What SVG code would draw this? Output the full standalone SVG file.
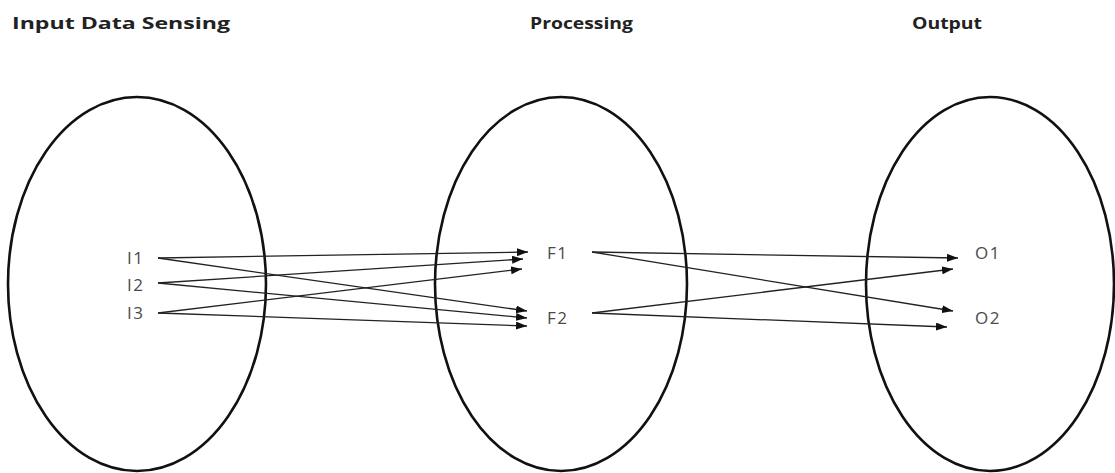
<svg xmlns="http://www.w3.org/2000/svg" width="1115" height="473" viewBox="0 0 1115 473">
<style>
.ell{fill:none;stroke:#111;stroke-width:2.6}
.title{font-family:"Open Sans","Noto Sans",sans-serif;font-weight:bold;font-size:16px;fill:#222}
.lbl{font-family:"Open Sans","Noto Sans",sans-serif;font-size:17px;fill:#4a4a4a;letter-spacing:1.5px}
.conn line{stroke:#222;stroke-width:1.3;marker-end:url(#arr)}
</style>
<defs>
<marker id="arr" markerUnits="userSpaceOnUse" markerWidth="12" markerHeight="8" refX="11" refY="4" orient="auto">
<path d="M0,0 L11,4 L0,8 z" fill="#111"/>
</marker>
</defs>
<rect width="1115" height="473" fill="#fff"/>
<g id="titles">
<text class="title" x="12" y="29" textLength="218" lengthAdjust="spacingAndGlyphs">Input Data Sensing</text>
<text class="title" x="530" y="29" textLength="103" lengthAdjust="spacingAndGlyphs">Processing</text>
<text class="title" x="912" y="29" textLength="70" lengthAdjust="spacingAndGlyphs">Output</text>
</g>
<g id="input">
<ellipse class="ell" cx="137" cy="284" rx="129" ry="187"/>
<text class="lbl" x="127" y="264">I1</text>
<text class="lbl" x="127" y="291">I2</text>
<text class="lbl" x="127" y="319">I3</text>
</g>
<g id="processing">
<ellipse class="ell" cx="561" cy="284" rx="126" ry="187"/>
<text class="lbl" x="547" y="259">F1</text>
<text class="lbl" x="547" y="324">F2</text>
</g>
<g id="output">
<ellipse class="ell" cx="990" cy="284" rx="124" ry="187"/>
<text class="lbl" x="975" y="259">O1</text>
<text class="lbl" x="975" y="324">O2</text>
</g>
<g class="conn" id="connectors">
<line x1="158" y1="258" x2="528" y2="252"/>
<line x1="158" y1="258" x2="527" y2="311"/>
<line x1="158" y1="283" x2="523" y2="259"/>
<line x1="158" y1="283" x2="527" y2="318"/>
<line x1="158" y1="313" x2="522" y2="269"/>
<line x1="158" y1="313" x2="527" y2="326"/>
<line x1="592" y1="252" x2="958" y2="258"/>
<line x1="592" y1="252" x2="953" y2="311"/>
<line x1="592" y1="313" x2="953" y2="269"/>
<line x1="592" y1="313" x2="947" y2="327"/>
</g>
</svg>
